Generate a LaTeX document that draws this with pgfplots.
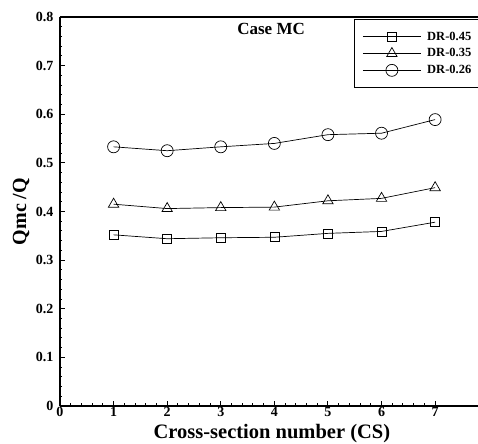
\documentclass[border=0pt]{standalone}
\usepackage{pgfplots}
\pgfplotsset{compat=1.18}
\usepackage{fontspec}
\setmainfont{Liberation Serif}
\begin{document}
\begin{tikzpicture}
\begin{axis}[
  scale only axis,
  width=418pt, height=389pt,
  xmin=0, xmax=7.8, ymin=0, ymax=0.8,
  enlargelimits=false,
  axis lines=left,
  axis line style={-, line width=1.5pt},
  xtick={0,1,...,7},
  ytick={0,0.1,0.2,0.3,0.4,0.5,0.6,0.7,0.8},
  yticklabels={0,0.1,0.2,0.3,0.4,0.5,0.6,0.7,0.8},
  minor x tick num=4, minor y tick num=4,
  tick align=inside,
  major tick length=5pt, minor tick length=2.5pt,
  tick style={line width=1pt, black},
  /pgf/number format/assume math mode=true,
  ticklabel style={font=\fontsize{14}{16}\selectfont\bfseries},
  xticklabel style={yshift=2pt},
  yticklabel style={xshift=-3pt},
  xlabel={Cross-section number (CS)},
  ylabel={Qmc /Q},
  xlabel style={font=\fontsize{20.5}{24}\selectfont\bfseries, at={(axis description cs:0.507,-0.07)}, anchor=center},
  ylabel style={font=\fontsize{20}{24}\selectfont\bfseries, at={(axis description cs:-0.093,0.5)}, anchor=center},
  legend cell align=left,
  legend style={at={(axis cs:5.49,0.795)}, anchor=north west, draw=black, line width=0.8pt,
    font=\fontsize{12.5}{14}\selectfont\bfseries, inner xsep=8pt, inner ysep=10pt,
    row sep=3pt, /tikz/every odd column/.append style={column sep=4pt}},
  legend image code/.code={\draw[mark repeat=2,mark phase=2,line width=0.6pt] plot coordinates {(0pt,0pt) (29pt,0pt) (58pt,0pt)};},
  clip=false,
]
\addplot[black, line width=0.7pt, mark=square, mark size=4.5pt, mark options={solid, line width=0.7pt}]
  coordinates {(1,0.352) (2,0.344) (3,0.346) (4,0.347) (5,0.355) (6,0.359) (7,0.378)};
\addlegendentry{DR-0.45}
\addplot[black, line width=0.7pt, mark=triangle, mark size=6pt, mark options={solid, line width=0.7pt}]
  coordinates {(1,0.415) (2,0.406) (3,0.408) (4,0.409) (5,0.422) (6,0.427) (7,0.449)};
\addlegendentry{DR-0.35}
\addplot[black, line width=0.7pt, mark=o, mark size=6pt, mark options={solid, line width=0.7pt}]
  coordinates {(1,0.533) (2,0.525) (3,0.533) (4,0.540) (5,0.558) (6,0.561) (7,0.589)};
\addlegendentry{DR-0.26}
\draw[line width=1.5pt] (rel axis cs:0,1) -- (rel axis cs:1,1);
\node[font=\fontsize{17}{19}\selectfont\bfseries] at (axis description cs:0.505,0.97) {Case MC};
\coordinate (O) at (rel axis cs:0,0);
\coordinate (TR) at (rel axis cs:1,1);
\end{axis}
\pgfresetboundingbox
\path ([shift={(-60pt,-38pt)}]O) rectangle ([shift={(0pt,17pt)}]TR);
\end{tikzpicture}
\end{document}
